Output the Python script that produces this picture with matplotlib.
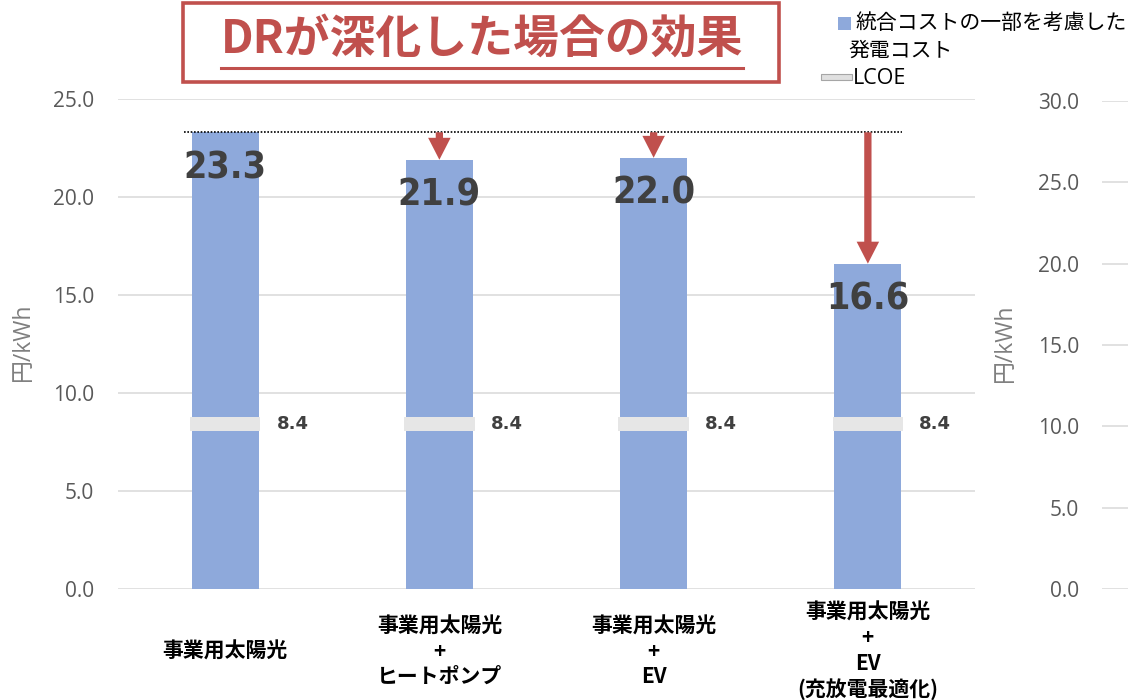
import numpy as np
import matplotlib
matplotlib.use('Agg')
import matplotlib.pyplot as plt
from matplotlib.patches import Rectangle, FancyArrow
from matplotlib.lines import Line2D
from matplotlib import font_manager as fm

# ---------------- data ----------------
categories = ['事業用太陽光',
              '事業用太陽光\n+\nヒートポンプ',
              '事業用太陽光\n+\nEV',
              '事業用太陽光\n+\nEV\n(充放電最適化)']
integrated_cost = [23.3, 21.9, 22.0, 16.6]
lcoe = [8.4, 8.4, 8.4, 8.4]
left_ticks = [0, 5, 10, 15, 20, 25]
right_ticks = [0, 5, 10, 15, 20, 25, 30]
title = 'DRが深化した場合の効果'
legend_line1 = '統合コストの一部を考慮した'
legend_line2 = '発電コスト'
legend_lcoe = 'LCOE'
ylabel = '円/kWh'

# ---------------- style ----------------
BLUE = '#8EA9DB'
GRAYBAR = '#E6E6E6'
RED = '#C0504D'
GRID = '#D9D9D9'
TICKC = '#595959'
LABC = '#404040'
CJK = 'Noto Sans CJK JP'
TICKFONT = ['Open Sans', CJK, 'DejaVu Sans']

# look for a condensed bold face for the big numbers
cond_file = None
for f in fm.fontManager.ttflist:
    if f.name == 'DejaVu Sans' and f.stretch == 'condensed' and f.weight in ('bold', 700):
        cond_file = f.fname
        break
if cond_file is not None:
    NUMFONT = fm.FontProperties(fname=cond_file, size=27)
else:
    NUMFONT = fm.FontProperties(family=CJK, weight='bold', size=27)

W, H = 1128, 700
fig = plt.figure(figsize=(W / 100, H / 100), dpi=100)
PX = 72 / 100  # points per pixel


def fx(px):
    return px / W


def fy(py):
    return 1 - py / H


# ---------------- main axes ----------------
ax = fig.add_axes([fx(118), fy(589), (975 - 118) / W, (589 - 99) / H])
x = np.arange(len(categories))
bw = 0.313
ax.bar(x, integrated_cost, width=bw, color=BLUE, zorder=2)
ax.set_xlim(-0.5, len(categories) - 0.5)
ax.set_ylim(0, 25)
ax.set_yticks(left_ticks)
ax.set_yticklabels([f'{t:.1f}' for t in left_ticks], family=TICKFONT,
                   fontsize=15, color=TICKC)
ax.yaxis.grid(True, color=GRID, lw=1.1)
ax.set_axisbelow(True)
for s in ax.spines.values():
    s.set_visible(False)
ax.tick_params(axis='y', length=0, pad=24 * PX)
ax.set_xticks(x)
ax.set_xticklabels(categories, family=CJK, fontsize=15, fontweight='bold',
                   color='black', linespacing=1.25)
ax.tick_params(axis='x', length=0, pad=62 * PX)
for lbl in ax.get_xticklabels():
    lbl.set_verticalalignment('center')
    lbl.set_multialignment('center')

# LCOE markers
ax.hlines(lcoe, x - 0.165, x + 0.165, colors=GRAYBAR, lw=14 * PX, zorder=3)
for xi, v in zip(x, lcoe):
    ax.annotate(f'{v:.1f}', xy=(xi + 0.165, v), xytext=(16 * PX, 0),
                textcoords='offset points', ha='left', va='center',
                fontsize=13, fontweight='bold', color=LABC,
                family='DejaVu Sans')

# bar value labels
for xi, v in zip(x, integrated_cost):
    ax.annotate(f'{v:.1f}', xy=(xi, v), xytext=(0, -36 * PX),
                textcoords='offset points', ha='center', va='center',
                fontproperties=NUMFONT, color=LABC, zorder=4)

# dotted reference line at the first bar level
base = integrated_cost[0]
ax.hlines(base, -0.19, 3.16, colors='black', linestyles=(0, (1, 1)), lw=1.2,
          zorder=5)

# red arrows
for xi, v in zip(x[1:], integrated_cost[1:]):
    ax.add_patch(FancyArrow(xi, base, 0, v - base, width=0.034,
                            head_width=0.105, head_length=1.12,
                            length_includes_head=True, color=RED, lw=0,
                            zorder=6))

# ---------------- secondary axis (right) ----------------
ax2 = fig.add_axes([fx(1102), fy(589), 1 - fx(1102), (589 - 101) / H])
ax2.set_ylim(0, 30)
ax2.set_xlim(0, 1)
ax2.set_yticks(right_ticks)
ax2.set_yticklabels([f'{t:.1f}' for t in right_ticks], family=TICKFONT,
                    fontsize=15, color=TICKC)
ax2.set_xticks([])
ax2.yaxis.grid(True, color=GRID, lw=1.1)
for s in ax2.spines.values():
    s.set_visible(False)
ax2.tick_params(axis='y', length=0, pad=23 * PX)

# y labels
fig.text(fx(23), fy(342), ylabel, rotation=90, ha='center', va='center',
         fontsize=16.5, color='#7F7F7F', family=TICKFONT)
fig.text(fx(1005), fy(343), ylabel, rotation=90, ha='center', va='center',
         fontsize=16.5, color='#7F7F7F', family=TICKFONT)

# ---------------- title box ----------------
fig.patches.append(Rectangle((fx(183), fy(82)), (779 - 183) / W, (82 - 3) / H,
                             transform=fig.transFigure, fill=True,
                             facecolor='white', edgecolor=RED, lw=2.6))
t = fig.text(fx(482), fy(40), title, ha='center', va='center', fontsize=33,
             fontweight='bold', color=RED, family=CJK)

# ---------------- legend ----------------
fig.patches.append(Rectangle((fx(838), fy(30)), 13 / W, 13 / H,
                             transform=fig.transFigure, facecolor=BLUE,
                             edgecolor='none'))
fig.text(fx(855), fy(23), legend_line1, ha='left', va='center', fontsize=15,
         color='black', family=CJK)
fig.text(fx(848), fy(51), legend_line2, ha='left', va='center', fontsize=15,
         color='black', family=CJK)
fig.patches.append(Rectangle((fx(821), fy(80)), 31 / W, 6 / H,
                             transform=fig.transFigure, facecolor='#E0E0E0',
                             edgecolor='#A6A6A6', lw=0.8))
fig.text(fx(853), fy(79), legend_lcoe, ha='left', va='center', fontsize=15.5,
         color='black', family=TICKFONT)

# underline for title
fig.canvas.draw()
bb = t.get_window_extent()
fig.lines.append(Line2D([bb.x0 / W, bb.x1 / W], [fy(68), fy(68)],
                        transform=fig.transFigure, color=RED, lw=2.2))

fig.savefig('out.png', dpi=100)
